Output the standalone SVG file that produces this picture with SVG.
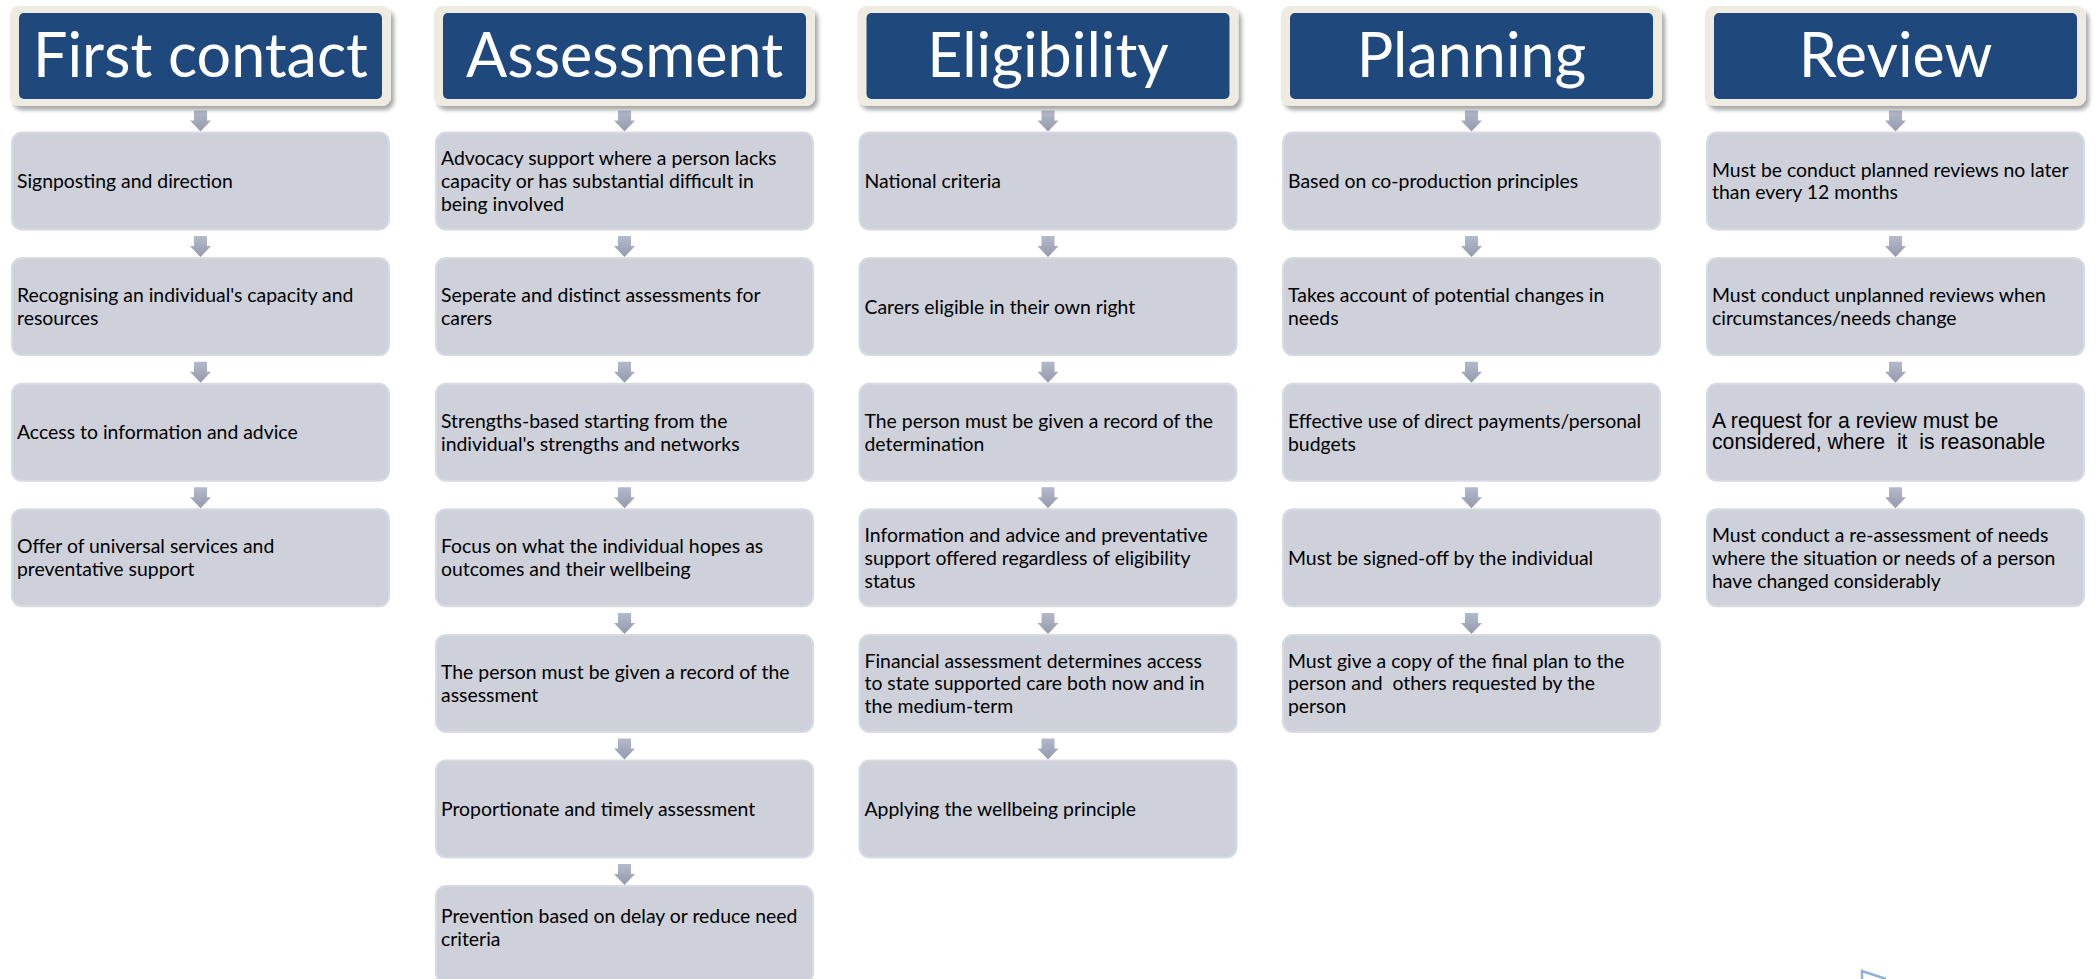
<svg xmlns="http://www.w3.org/2000/svg" xmlns:xlink="http://www.w3.org/1999/xlink" width="2096" height="979" viewBox="0 0 2096 979">
<style>
.hdr{fill:#eeece1;filter:url(#sh)}
.hin{fill:#1f497d}
.ttl{font-family:Lato,"Open Sans",sans-serif;font-size:61px;fill:#ffffff;text-anchor:middle}
.box{fill:#ced1da;stroke:#d8dae1;stroke-width:2}
.txt{font-family:Lato,"Open Sans",sans-serif;font-size:19.4px;fill:#000000;white-space:pre}
.ar{font-family:"Liberation Sans",Arial,sans-serif;font-size:21.2px;fill:#000000;white-space:pre}
.arr{fill:url(#ag)}
</style>
<defs>
<filter id="sh" x="-5%" y="-10%" width="115%" height="130%">
<feDropShadow dx="3" dy="4" stdDeviation="2" flood-color="#000" flood-opacity="0.35"/>
</filter>
<linearGradient id="ag" x1="0" y1="0" x2="0" y2="1">
<stop offset="0" stop-color="#b4b9cb"/>
<stop offset="1" stop-color="#9499ab"/>
</linearGradient>
<path id="arw" class="arr" d="M-6.5,0 H6.5 V10 H10.5 L0,21 L-10.5,10 H-6.5 Z"/>
</defs>
<rect width="2096" height="979" fill="#ffffff"/>

<g id="connectors">
<use href="#arw" x="200.5" y="110.5"/>
<use href="#arw" x="200.5" y="236.1"/>
<use href="#arw" x="200.5" y="361.7"/>
<use href="#arw" x="200.5" y="487.3"/>

<use href="#arw" x="624.5" y="110.5"/>
<use href="#arw" x="624.5" y="236.1"/>
<use href="#arw" x="624.5" y="361.7"/>
<use href="#arw" x="624.5" y="487.3"/>
<use href="#arw" x="624.5" y="612.9"/>
<use href="#arw" x="624.5" y="738.5"/>
<use href="#arw" x="624.5" y="864.1"/>

<use href="#arw" x="1048" y="110.5"/>
<use href="#arw" x="1048" y="236.1"/>
<use href="#arw" x="1048" y="361.7"/>
<use href="#arw" x="1048" y="487.3"/>
<use href="#arw" x="1048" y="612.9"/>
<use href="#arw" x="1048" y="738.5"/>

<use href="#arw" x="1471.5" y="110.5"/>
<use href="#arw" x="1471.5" y="236.1"/>
<use href="#arw" x="1471.5" y="361.7"/>
<use href="#arw" x="1471.5" y="487.3"/>
<use href="#arw" x="1471.5" y="612.9"/>

<use href="#arw" x="1895.5" y="110.5"/>
<use href="#arw" x="1895.5" y="236.1"/>
<use href="#arw" x="1895.5" y="361.7"/>
<use href="#arw" x="1895.5" y="487.3"/>
</g>

<!-- Column 1 -->
<g id="h-first-contact">
<rect class="hdr" x="10" y="6" width="381" height="100" rx="9"/>
<rect class="hin" x="19" y="13" width="363" height="86" rx="5"/>
<text class="ttl" x="200.5" y="77">First contact</text>
</g>
<g id="fc1"><rect class="box" x="12" y="132.5" width="377" height="97" rx="10"/><text class="txt" x="17" y="188">Signposting and direction</text></g>
<g id="fc2"><rect class="box" x="12" y="258.1" width="377" height="97" rx="10"/><text class="txt" x="17" y="302.25">Recognising an individual's capacity and<tspan x="17" dy="22.7">resources</tspan></text></g>
<g id="fc3"><rect class="box" x="12" y="383.7" width="377" height="97" rx="10"/><text class="txt" x="17" y="439.2">Access to information and advice</text></g>
<g id="fc4"><rect class="box" x="12" y="509.3" width="377" height="97" rx="10"/><text class="txt" x="17" y="553.45">Offer of universal services and<tspan x="17" dy="22.7">preventative support</tspan></text></g>

<!-- Column 2 -->
<g id="h-assessment">
<rect class="hdr" x="434" y="6" width="381" height="100" rx="9"/>
<rect class="hin" x="443" y="13" width="363" height="86" rx="5"/>
<text class="ttl" x="624.5" y="77">Assessment</text>
</g>
<g id="as1"><rect class="box" x="436" y="132.5" width="377" height="97" rx="10"/><text class="txt" x="441" y="165.3">Advocacy support where a person lacks<tspan x="441" dy="22.7">capacity or has substantial difficult in</tspan><tspan x="441" dy="22.7">being involved</tspan></text></g>
<g id="as2"><rect class="box" x="436" y="258.1" width="377" height="97" rx="10"/><text class="txt" x="441" y="302.25">Seperate and distinct assessments for<tspan x="441" dy="22.7">carers</tspan></text></g>
<g id="as3"><rect class="box" x="436" y="383.7" width="377" height="97" rx="10"/><text class="txt" x="441" y="427.85">Strengths-based starting from the<tspan x="441" dy="22.7">individual's strengths and networks</tspan></text></g>
<g id="as4"><rect class="box" x="436" y="509.3" width="377" height="97" rx="10"/><text class="txt" x="441" y="553.45">Focus on what the individual hopes as<tspan x="441" dy="22.7">outcomes and their wellbeing</tspan></text></g>
<g id="as5"><rect class="box" x="436" y="634.9" width="377" height="97" rx="10"/><text class="txt" x="441" y="679.05">The person must be given a record of the<tspan x="441" dy="22.7">assessment</tspan></text></g>
<g id="as6"><rect class="box" x="436" y="760.5" width="377" height="97" rx="10"/><text class="txt" x="441" y="816">Proportionate and timely assessment</text></g>
<g id="as7"><rect class="box" x="436" y="886.1" width="377" height="97" rx="10"/><text class="txt" x="441" y="923.25">Prevention based on delay or reduce need<tspan x="441" dy="22.7">criteria</tspan></text></g>

<!-- Column 3 -->
<g id="h-eligibility">
<rect class="hdr" x="857.5" y="6" width="381" height="100" rx="9"/>
<rect class="hin" x="866.5" y="13" width="363" height="86" rx="5"/>
<text class="ttl" x="1048" y="77">Eligibility</text>
</g>
<g id="el1"><rect class="box" x="859.5" y="132.5" width="377" height="97" rx="10"/><text class="txt" x="864.5" y="188">National criteria</text></g>
<g id="el2"><rect class="box" x="859.5" y="258.1" width="377" height="97" rx="10"/><text class="txt" x="864.5" y="313.6">Carers eligible in their own right</text></g>
<g id="el3"><rect class="box" x="859.5" y="383.7" width="377" height="97" rx="10"/><text class="txt" x="864.5" y="427.85">The person must be given a record of the<tspan x="864.5" dy="22.7">determination</tspan></text></g>
<g id="el4"><rect class="box" x="859.5" y="509.3" width="377" height="97" rx="10"/><text class="txt" x="864.5" y="542.1">Information and advice and preventative<tspan x="864.5" dy="22.7">support offered regardless of eligibility</tspan><tspan x="864.5" dy="22.7">status</tspan></text></g>
<g id="el5"><rect class="box" x="859.5" y="634.9" width="377" height="97" rx="10"/><text class="txt" x="864.5" y="667.7">Financial assessment determines access<tspan x="864.5" dy="22.7">to state supported care both now and in</tspan><tspan x="864.5" dy="22.7">the medium-term</tspan></text></g>
<g id="el6"><rect class="box" x="859.5" y="760.5" width="377" height="97" rx="10"/><text class="txt" x="864.5" y="816">Applying the wellbeing principle</text></g>

<!-- Column 4 -->
<g id="h-planning">
<rect class="hdr" x="1281" y="6" width="381" height="100" rx="9"/>
<rect class="hin" x="1290" y="13" width="363" height="86" rx="5"/>
<text class="ttl" x="1471.5" y="77">Planning</text>
</g>
<g id="pl1"><rect class="box" x="1283" y="132.5" width="377" height="97" rx="10"/><text class="txt" x="1288" y="188">Based on co-production principles</text></g>
<g id="pl2"><rect class="box" x="1283" y="258.1" width="377" height="97" rx="10"/><text class="txt" x="1288" y="302.25">Takes account of potential changes in<tspan x="1288" dy="22.7">needs</tspan></text></g>
<g id="pl3"><rect class="box" x="1283" y="383.7" width="377" height="97" rx="10"/><text class="txt" x="1288" y="427.85">Effective use of direct payments/personal<tspan x="1288" dy="22.7">budgets</tspan></text></g>
<g id="pl4"><rect class="box" x="1283" y="509.3" width="377" height="97" rx="10"/><text class="txt" x="1288" y="564.8">Must be signed-off by the individual</text></g>
<g id="pl5"><rect class="box" x="1283" y="634.9" width="377" height="97" rx="10"/><text class="txt" x="1288" y="667.7">Must give a copy of the final plan to the<tspan x="1288" dy="22.7">person and  others requested by the</tspan><tspan x="1288" dy="22.7">person</tspan></text></g>

<!-- Column 5 -->
<g id="h-review">
<rect class="hdr" x="1705" y="6" width="381" height="100" rx="9"/>
<rect class="hin" x="1714" y="13" width="363" height="86" rx="5"/>
<text class="ttl" x="1895.5" y="77">Review</text>
</g>
<g id="rv1"><rect class="box" x="1707" y="132.5" width="377" height="97" rx="10"/><text class="txt" x="1712" y="176.65">Must be conduct planned reviews no later<tspan x="1712" dy="22.7">than every 12 months</tspan></text></g>
<g id="rv2"><rect class="box" x="1707" y="258.1" width="377" height="97" rx="10"/><text class="txt" x="1712" y="302.25">Must conduct unplanned reviews when<tspan x="1712" dy="22.7">circumstances/needs change</tspan></text></g>
<g id="rv3"><rect class="box" x="1707" y="383.7" width="377" height="97" rx="10"/><text class="ar" x="1712" y="428">A request for a review must be<tspan x="1712" dy="21">considered, where  it  is reasonable</tspan></text></g>
<g id="rv4"><rect class="box" x="1707" y="509.3" width="377" height="97" rx="10"/><text class="txt" x="1712" y="542.1">Must conduct a re-assessment of needs<tspan x="1712" dy="22.7">where the situation or needs of a person</tspan><tspan x="1712" dy="22.7">have changed considerably</tspan></text></g>

<polyline points="1862,979 1862,971 1886,979" fill="none" stroke="#8fb0dd" stroke-width="2.5"/>
</svg>
